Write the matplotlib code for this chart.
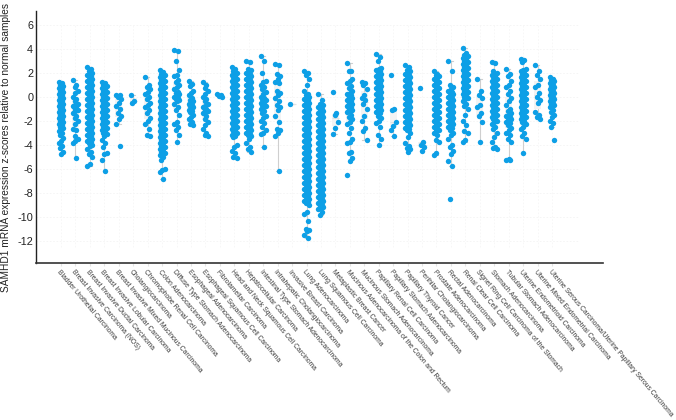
"""SAMHD1 mRNA z-scores by cancer subtype."""

import matplotlib as mpl

mpl.use("Agg")
import matplotlib.pyplot as plt

plt.rcParams["font.family"] = ["Liberation Sans", "DejaVu Sans"]
plt.rcParams["axes.unicode_minus"] = False

# %% values
categories = [
    "Bladder Urothelial Carcinoma", "Breast Invasive Carcinoma (NOS)",
    "Breast Invasive Ductal Carcinoma", "Breast Invasive Lobular Carcinoma",
    "Breast Invasive Mixed Mucinous Carcinoma", "Cholangiocarcinoma",
    "Chromophobe Renal Cell Carcinoma", "Colon Adenocarcinoma",
    "Diffuse Type Stomach Adenocarcinoma", "Esophageal Adenocarcinoma",
    "Esophageal Squamous Cell Carcinoma", "Fibrolamellar Carcinoma",
    "Head and Neck Squamous Cell Carcinoma", "Hepatocellular Carcinoma",
    "Intestinal Type Stomach Adenocarcinoma", "Intrahepatic Cholangiocarcinoma",
    "Invasive Breast Carcinoma", "Lung Adenocarcinoma",
    "Lung Squamous Cell Carcinoma", "Metaplastic Breast Cancer",
    "Mucinous Adenocarcinoma of the Colon and Rectum", "Mucinous Stomach Adenocarcinoma",
    "Papillary Renal Cell Carcinoma", "Papillary Stomach Adenocarcinoma",
    "Papillary Thyroid Cancer", "Perihilar Cholangiocarcinoma",
    "Prostate Adenocarcinoma", "Rectal Adenocarcinoma",
    "Renal Clear Cell Carcinoma", "Signet Ring Cell Carcinoma of the Stomach",
    "Stomach Adenocarcinoma", "Tubular Stomach Adenocarcinoma",
    "Uterine Endometrioid Carcinoma", "Uterine Mixed Endometrial Carcinoma",
    "Uterine Serous Carcinoma/Uterine Papillary Serous Carcinoma",
]

bladder = [1.25, 1.1, 1.0, 0.9, 0.8, 0.7, 0.6, 0.5, 0.4, 0.3, 0.2, 0.1, 0.0, -0.1, -0.2, -0.3, -0.4, -0.5, -0.6, -0.7, -0.8, -0.9, -1.0, -1.1, -1.2, -1.3, -1.4, -1.5, -1.6, -1.7, -1.8, -1.9, -2.0, -2.1, -2.2, -2.3, -2.4, -2.5, -2.6, -2.7, -2.85, -3.0, -3.2, -3.45, -3.7, -3.9, -4.1, -4.25, -4.6, -4.75]
breast_nos = [1.35, 1.0, 0.8, 0.5, 0.3, 0.0, -0.2, -0.4, -0.6, -0.7, -0.8, -0.9, -1.0, -1.1, -1.2, -1.4, -1.6, -1.8, -2.0, -2.3, -2.7, -2.8, -3.3, -3.5, -3.7, -3.9, -5.1]
breast_ductal = [2.45, 2.3, 2.1, 2.0, 1.9, 1.8, 1.7, 1.6, 1.5, 1.4, 1.3, 1.2, 1.1, 1.0, 0.9, 0.8, 0.7, 0.6, 0.5, 0.4, 0.3, 0.2, 0.1, 0.0, -0.1, -0.2, -0.3, -0.4, -0.5, -0.6, -0.7, -0.8, -0.9, -1.0, -1.1, -1.2, -1.3, -1.4, -1.5, -1.6, -1.7, -1.8, -1.9, -2.0, -2.1, -2.2, -2.3, -2.4, -2.5, -2.6, -2.7, -2.8, -2.9, -3.0, -3.1, -3.2, -3.3, -3.4, -3.5, -3.6, -3.7, -3.8, -3.9, -4.0, -4.15, -4.4, -4.6, -4.8, -5.0, -5.6, -5.8]
breast_lobular = [1.25, 1.1, 1.0, 0.9, 0.8, 0.7, 0.6, 0.5, 0.4, 0.3, 0.2, 0.1, 0.0, -0.1, -0.2, -0.3, -0.4, -0.5, -0.6, -0.7, -0.8, -0.9, -1.0, -1.1, -1.2, -1.3, -1.4, -1.5, -1.6, -1.7, -1.8, -1.9, -2.0, -2.1, -2.2, -2.3, -2.4, -2.5, -2.6, -2.7, -2.8, -2.9, -3.0, -3.1, -3.3, -3.6, -3.9, -4.2, -4.7, -4.8, -5.25, -6.2]
breast_mixed = [0.15, 0.1, 0.0, -0.2, -0.5, -0.8, -1.0, -1.4, -1.6, -1.9, -2.3, -4.1]
cholangio = [0.1, -0.4, -0.5]
chromophobe = [1.6, 1.0, 0.8, 0.6, 0.4, 0.2, 0.0, -0.2, -0.5, -0.7, -0.9, -1.1, -1.4, -1.8, -2.0, -2.3, -2.7, -3.2, -3.3]
colon = [2.2, 2.05, 1.9, 1.8, 1.7, 1.6, 1.5, 1.4, 1.3, 1.2, 1.1, 1.0, 0.9, 0.8, 0.7, 0.6, 0.5, 0.4, 0.3, 0.2, 0.1, 0.0, -0.1, -0.2, -0.3, -0.4, -0.5, -0.6, -0.7, -0.8, -0.9, -1.0, -1.1, -1.2, -1.3, -1.4, -1.5, -1.6, -1.7, -1.8, -1.9, -2.0, -2.1, -2.2, -2.3, -2.4, -2.5, -2.6, -2.7, -2.8, -2.9, -3.0, -3.1, -3.2, -3.3, -3.4, -3.5, -3.6, -3.7, -3.8, -3.9, -4.0, -4.1, -4.2, -4.3, -4.4, -4.5, -4.6, -4.7, -4.8, -4.9, -5.0, -5.3, -6.0, -6.1, -6.3, -6.9]
diffuse_stomach = [3.9, 3.8, 3.0, 2.2, 1.8, 1.7, 1.4, 1.2, 1.0, 0.8, 0.6, 0.4, 0.3, 0.2, 0.1, 0.0, -0.1, -0.2, -0.3, -0.4, -0.6, -0.9, -1.1, -1.5, -2.1, -2.3, -2.5, -2.8, -3.2, -3.8]
esoph_adeno = [1.3, 1.05, 0.9, 0.5, 0.3, 0.1, -0.1, -0.3, -0.4, -0.5, -0.6, -0.7, -0.8, -0.9, -1.0, -1.1, -1.2, -1.3, -1.5, -1.7, -1.9, -2.1, -2.3, -2.4]
esoph_squamous = [1.2, 1.0, 0.7, 0.5, 0.2, 0.0, -0.2, -0.4, -0.6, -0.8, -0.9, -1.0, -1.1, -1.2, -1.3, -1.4, -1.6, -1.9, -2.1, -2.4, -2.7, -3.0, -3.2, -3.3]
fibrolamellar = [0.2, 0.15, 0.05, 0.0]
head_neck = [2.5, 2.3, 2.1, 2.0, 1.9, 1.8, 1.7, 1.6, 1.5, 1.4, 1.3, 1.2, 1.1, 1.0, 0.9, 0.8, 0.7, 0.6, 0.5, 0.4, 0.3, 0.2, 0.1, 0.0, -0.1, -0.2, -0.3, -0.4, -0.5, -0.6, -0.7, -0.8, -0.9, -1.0, -1.1, -1.2, -1.3, -1.4, -1.5, -1.6, -1.7, -1.8, -1.9, -2.0, -2.1, -2.2, -2.3, -2.4, -2.5, -2.6, -2.7, -2.8, -2.9, -3.0, -3.1, -3.2, -3.3, -3.4, -4.0, -4.2, -4.5, -4.7, -5.0, -5.1]
hepatocellular = [3.0, 2.9, 2.3, 2.2, 2.1, 2.0, 1.9, 1.8, 1.7, 1.6, 1.5, 1.4, 1.3, 1.2, 1.1, 1.0, 0.9, 0.8, 0.7, 0.6, 0.5, 0.4, 0.3, 0.2, 0.1, 0.0, -0.1, -0.2, -0.3, -0.4, -0.5, -0.6, -0.7, -0.8, -0.9, -1.0, -1.1, -1.2, -1.3, -1.4, -1.5, -1.6, -1.7, -1.8, -1.9, -2.0, -2.1, -2.2, -2.3, -2.4, -2.5, -2.6, -2.7, -2.8, -2.9, -3.0, -3.1, -3.2, -3.3, -3.5, -3.9, -4.2, -4.4, -4.6]
intestinal_stomach = [3.4, 3.0, 2.0, 1.3, 1.2, 1.0, 0.8, 0.6, 0.4, 0.2, 0.0, -0.1, -0.2, -0.3, -0.4, -0.5, -0.6, -0.7, -0.8, -0.9, -1.0, -1.2, -1.4, -1.6, -1.8, -2.0, -2.2, -2.5, -2.8, -3.0, -3.1, -4.2]
intrahepatic = [2.7, 2.6, 1.9, 1.7, 1.5, 1.2, 1.1, 0.5, 0.3, 0.1, -0.1, -0.4, -0.7, -0.9, -1.1, -1.6, -2.1, -2.7, -2.8, -3.0, -3.3, -6.2]
invasive_breast = [-0.6]
lung_adeno = [2.1, 2.0, 1.8, 1.5, 1.0, 0.5, 0.2, 0.1, 0.0, -0.1, -0.2, -0.3, -0.4, -0.5, -0.6, -0.7, -0.8, -0.9, -1.0, -1.1, -1.2, -1.3, -1.4, -1.5, -1.6, -1.7, -1.8, -1.9, -2.0, -2.1, -2.2, -2.3, -2.4, -2.5, -2.6, -2.7, -2.8, -2.9, -3.0, -3.1, -3.2, -3.3, -3.4, -3.5, -3.6, -3.7, -3.8, -3.9, -4.0, -4.1, -4.2, -4.3, -4.4, -4.5, -4.6, -4.7, -4.8, -4.9, -5.0, -5.1, -5.2, -5.3, -5.4, -5.5, -5.6, -5.7, -5.8, -5.9, -6.0, -6.1, -6.2, -6.3, -6.4, -6.5, -6.6, -6.7, -6.8, -6.9, -7.0, -7.1, -7.2, -7.3, -7.4, -7.5, -7.6, -7.7, -7.8, -7.9, -8.0, -8.1, -8.2, -8.3, -8.4, -8.5, -8.6, -8.7, -8.8, -8.9, -9.0, -9.6, -9.8, -10.4, -11.0, -11.1, -11.2, -11.5, -11.8]
lung_squamous = [0.2, -0.3, -0.6, -0.7, -0.8, -0.9, -1.0, -1.1, -1.2, -1.3, -1.4, -1.5, -1.6, -1.7, -1.8, -1.9, -2.0, -2.1, -2.2, -2.3, -2.4, -2.5, -2.6, -2.7, -2.8, -2.9, -3.0, -3.1, -3.2, -3.3, -3.4, -3.5, -3.6, -3.7, -3.8, -3.9, -4.0, -4.1, -4.2, -4.3, -4.4, -4.5, -4.6, -4.7, -4.8, -4.9, -5.0, -5.1, -5.2, -5.3, -5.4, -5.5, -5.6, -5.7, -5.8, -5.9, -6.0, -6.1, -6.2, -6.3, -6.4, -6.5, -6.6, -6.7, -6.8, -6.9, -7.0, -7.1, -7.2, -7.3, -7.4, -7.5, -7.6, -7.7, -7.8, -7.9, -8.0, -8.1, -8.2, -8.3, -8.4, -8.5, -8.6, -8.7, -8.8, -8.9, -9.0, -9.1, -9.2, -9.3, -9.4, -9.6, -9.9]
metaplastic = [0.35, -1.4, -1.5, -2.1, -2.6, -3.15]
mucinous_colon = [2.8, 2.15, 2.1, 1.5, 1.3, 1.1, 0.9, 0.7, 0.5, 0.3, 0.2, 0.1, 0.0, -0.1, -0.2, -0.3, -0.4, -0.5, -0.6, -0.7, -0.8, -0.9, -1.0, -1.1, -1.2, -1.3, -1.5, -1.7, -1.9, -2.1, -2.3, -2.6, -3.0, -3.5, -3.8, -3.9, -4.6, -4.7, -5.1, -5.4, -6.5]
mucinous_stomach = [1.25, 1.1, 1.0, 0.6, 0.1, -0.1, -0.3, -0.6, -1.0, -1.6, -2.0, -2.6, -2.9, -3.6]
papillary_renal = [3.55, 3.3, 3.0, 2.4, 2.3, 2.2, 2.1, 2.0, 1.9, 1.8, 1.7, 1.6, 1.5, 1.4, 1.3, 1.2, 1.1, 1.0, 0.9, 0.8, 0.7, 0.6, 0.5, 0.4, 0.3, 0.2, 0.1, 0.0, -0.1, -0.2, -0.3, -0.4, -0.5, -0.6, -0.7, -0.8, -0.9, -1.0, -1.1, -1.2, -1.3, -1.4, -1.6, -1.8, -2.0, -2.2, -2.5, -3.2, -3.5, -4.0]
papillary_stomach = [1.8, -1.0, -1.1, -2.1, -2.45, -2.8, -3.3]
papillary_thyroid = [2.65, 2.5, 2.2, 2.1, 2.0, 1.9, 1.8, 1.7, 1.6, 1.5, 1.4, 1.3, 1.2, 1.1, 1.0, 0.9, 0.8, 0.7, 0.6, 0.5, 0.4, 0.3, 0.2, 0.1, 0.0, -0.1, -0.2, -0.3, -0.4, -0.5, -0.6, -0.7, -0.8, -0.9, -1.0, -1.1, -1.2, -1.3, -1.4, -1.5, -1.6, -1.7, -1.8, -1.9, -2.0, -2.1, -2.2, -2.3, -2.4, -2.5, -2.6, -2.7, -2.8, -3.0, -3.4, -3.9, -4.1, -4.3, -4.4, -4.6]
perihilar = [0.7, -3.75, -4.0, -4.2, -4.5]
prostate = [2.1, 1.9, 1.8, 1.7, 1.6, 1.5, 1.4, 1.3, 1.2, 1.1, 1.0, 0.9, 0.8, 0.7, 0.6, 0.5, 0.4, 0.3, 0.2, 0.1, 0.0, -0.1, -0.2, -0.3, -0.4, -0.5, -0.6, -0.7, -0.8, -0.9, -1.0, -1.1, -1.2, -1.3, -1.4, -1.5, -1.6, -1.7, -1.8, -1.9, -2.0, -2.1, -2.2, -2.3, -2.4, -2.5, -2.6, -2.7, -2.8, -2.9, -3.0, -3.2, -3.6, -3.8, -4.7, -4.9]
rectal = [2.95, 2.15, 1.0, 0.8, 0.6, 0.5, 0.4, 0.3, 0.2, 0.1, 0.0, -0.1, -0.2, -0.3, -0.4, -0.5, -0.6, -0.7, -0.8, -0.9, -1.0, -1.1, -1.2, -1.3, -1.4, -1.5, -1.6, -1.7, -1.8, -1.9, -2.0, -2.1, -2.2, -2.3, -2.4, -2.5, -2.6, -2.8, -3.0, -3.2, -3.5, -4.0, -4.2, -4.5, -4.8, -5.4, -5.8, -8.55]
renal_clear = [4.05, 3.6, 3.5, 3.4, 3.3, 3.2, 3.1, 3.0, 2.9, 2.8, 2.7, 2.6, 2.5, 2.4, 2.3, 2.2, 2.1, 2.0, 1.9, 1.8, 1.7, 1.6, 1.5, 1.4, 1.3, 1.2, 1.1, 1.0, 0.9, 0.8, 0.7, 0.6, 0.5, 0.4, 0.3, 0.2, 0.1, 0.0, -0.1, -0.2, -0.4, -0.6, -0.8, -1.0, -1.5, -2.0, -2.4, -2.9, -3.0, -3.6, -3.8]
signet_ring = [1.5, 0.5, 0.15, -0.15, -0.7, -0.85, -1.4, -1.65, -2.1, -3.75]
stomach_adeno = [2.9, 2.8, 2.1, 2.0, 1.9, 1.8, 1.7, 1.6, 1.5, 1.4, 1.3, 1.2, 1.1, 1.0, 0.9, 0.8, 0.7, 0.6, 0.5, 0.4, 0.3, 0.2, 0.1, 0.0, -0.1, -0.2, -0.3, -0.4, -0.5, -0.6, -0.7, -0.8, -0.9, -1.0, -1.1, -1.2, -1.3, -1.4, -1.5, -1.6, -1.7, -1.8, -1.9, -2.0, -2.1, -2.3, -2.5, -2.7, -3.0, -3.4, -3.8, -4.2, -4.3, -4.4]
tubular_stomach = [2.3, 1.9, 1.7, 1.3, 1.0, 0.8, 0.5, 0.2, -0.1, -0.4, -0.7, -1.0, -1.2, -1.4, -1.5, -1.6, -1.7, -1.8, -1.9, -2.0, -2.1, -2.2, -2.4, -2.6, -2.8, -3.0, -3.2, -3.5, -3.8, -5.2, -5.3, -5.3]
endometrioid = [3.1, 3.05, 2.9, 2.3, 2.2, 2.1, 2.0, 1.9, 1.8, 1.7, 1.6, 1.5, 1.4, 1.3, 1.2, 1.1, 1.0, 0.9, 0.8, 0.7, 0.6, 0.5, 0.4, 0.3, 0.2, 0.1, 0.0, -0.1, -0.2, -0.3, -0.4, -0.5, -0.6, -0.7, -0.8, -0.9, -1.0, -1.1, -1.2, -1.3, -1.4, -1.5, -1.6, -1.7, -1.8, -1.9, -2.0, -2.1, -2.3, -2.5, -2.7, -3.0, -3.3, -3.5, -4.67]
mixed_endometrial = [2.6, 2.15, 1.8, 1.45, 1.0, 0.8, 0.3, 0.0, -0.3, -0.55, -1.25, -1.5, -1.7, -1.9]
serous = [1.65, 1.5, 1.4, 1.3, 1.2, 1.1, 1.0, 0.9, 0.8, 0.7, 0.6, 0.5, 0.4, 0.3, 0.2, 0.1, 0.0, -0.1, -0.2, -0.3, -0.4, -0.5, -0.6, -0.7, -0.8, -0.9, -1.1, -1.3, -1.5, -1.7, -2.0, -2.2, -2.5, -3.6]

series = [
    bladder, breast_nos, breast_ductal, breast_lobular, breast_mixed, cholangio,
    chromophobe, colon, diffuse_stomach, esoph_adeno, esoph_squamous, fibrolamellar,
    head_neck, hepatocellular, intestinal_stomach, intrahepatic, invasive_breast,
    lung_adeno, lung_squamous, metaplastic, mucinous_colon, mucinous_stomach,
    papillary_renal, papillary_stomach, papillary_thyroid, perihilar, prostate,
    rectal, renal_clear, signet_ring, stomach_adeno, tubular_stomach, endometrioid,
    mixed_endometrial, serous,
]
yticks = [6, 4, 2, 0, -2, -4, -6, -8, -10, -12]

# fixed side-to-side scatter of the dots, in category units
jitter = [-0.17, 0.07, -0.06, 0.17, 0.0]

# %% figure
fig = plt.figure(figsize=(6.76, 4.2), dpi=100)
ax = fig.add_axes([36 / 676, 1 - 263 / 420, (603 - 36) / 676, (263 - 11) / 420])
ax.set_xlim(-1.73, 37.53)
ax.set_ylim(-13.87, 7.13)

positions = list(range(len(categories)))
ax.hlines(yticks, -1.73, 35.8, color="#f4f4f4", lw=0.6, ls=(0, (2, 2)), zorder=0)
ax.vlines(positions, -12.5, 6, color="#f6f6f6", lw=0.6, ls=(0, (2, 2)), zorder=0)

ax.boxplot(
    series, positions=positions, widths=0.5, manage_ticks=False, showfliers=False,
    patch_artist=True,
    boxprops={"facecolor": "#f3f3f3", "edgecolor": "none"},
    medianprops={"color": "#e2e2e2", "lw": 0.8},
    whiskerprops={"color": "#cfcfcf", "lw": 0.8},
    capprops={"color": "#cfcfcf", "lw": 0.8},
    zorder=1,
)

for pos, values in zip(positions, series):
    xs = [pos + jitter[i % len(jitter)] for i in range(len(values))]
    ax.scatter(xs, values, s=15, color="#0d9fe6", linewidths=0, zorder=3)

ax.spines[["top", "right"]].set_visible(False)
ax.spines["left"].set_color("#222222")
ax.spines["bottom"].set_color("#333333")
ax.spines["left"].set_linewidth(1.0)
ax.spines["bottom"].set_linewidth(1.2)

ax.set_yticks(yticks)
ax.tick_params(axis="y", length=0, labelsize=7.8, labelcolor="#222222", pad=2)
ax.set_xticks(positions)
ax.set_xticklabels(
    categories, rotation=-50, rotation_mode="anchor", ha="left", va="top",
    fontsize=4.9, color="#3a3a3a",
)
ax.tick_params(axis="x", length=2, color="#e4e4e4", pad=2)

fig.text(6 / 676, 1 - 147 / 420,
         "SAMHD1 mRNA expression z-scores relative to normal samples",
         rotation=90, ha="center", va="center", fontsize=7.3, color="#222222")

fig.savefig("out.png", dpi=100)
